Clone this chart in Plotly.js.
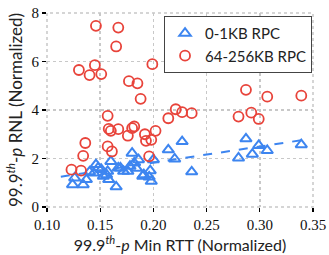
<!DOCTYPE html>
<html>
<head>
<meta charset="utf-8">
<script src="https://cdn.plot.ly/plotly-3.0.1.min.js"></script>
<style>html,body{margin:0;padding:0;background:#fff;}#chart{width:329px;height:255px;}</style>
</head>
<body>
<div id="chart"></div>
<script>
// Small RPCs (0-1KB)
const smallX = [0.124,0.126,0.134,0.137,0.140,0.144,0.146,0.148,0.151,0.153,0.156,0.157,0.158,0.160,0.165,0.167,0.169,0.172,0.176,0.178,0.180,0.182,0.184,0.186,0.190,0.191,0.196,0.197,0.198,0.200,0.214,0.220,0.227,0.236,0.280,0.287,0.293,0.299,0.307,0.339];
const smallY = [0.92,1.20,0.92,1.13,1.45,1.40,1.75,1.61,1.55,1.27,1.33,1.47,1.13,1.88,0.83,1.61,1.61,1.47,1.47,1.68,2.22,1.82,1.60,1.95,1.27,1.33,1.24,1.50,1.06,1.95,2.36,1.98,2.70,1.45,2.02,2.81,2.18,2.54,2.33,2.57];
// Large RPCs (64-256KB)
const largeX = [0.123,0.132,0.134,0.136,0.130,0.140,0.145,0.151,0.146,0.167,0.157,0.158,0.160,0.167,0.165,0.157,0.161,0.176,0.180,0.182,0.177,0.185,0.188,0.192,0.193,0.198,0.196,0.199,0.202,0.214,0.221,0.227,0.236,0.280,0.287,0.292,0.299,0.307,0.339];
const largeY = [1.54,1.50,2.11,2.64,5.65,5.44,5.85,5.48,7.47,7.40,3.76,3.22,3.14,3.21,6.62,2.50,2.29,2.94,3.25,3.32,5.19,5.10,4.46,3.00,2.73,2.77,2.09,5.89,3.14,3.66,4.03,3.91,3.87,3.73,4.83,3.89,3.63,4.55,4.59];
// Trend line for small RPCs (endpoints)
const trendX = [0.113, 0.343];
const trendY = [1.25, 2.78];

const xTicks = [0.10,0.15,0.20,0.25,0.30,0.35];
const xTickText = ["0.10","0.15","0.20","0.25","0.30","0.35"];
const yTicks = [0,2,4,6,8];

const blue = '#3d85f0';
const red = '#e8433a';

const traces = [
  {x: trendX, y: trendY, mode:'lines', line:{color:blue, width:2, dash:'dash'}, showlegend:false, hoverinfo:'skip'},
  {x: smallX, y: smallY, mode:'markers', name:'0-1KB RPC',
   marker:{symbol:'triangle-up-open', size:10, color:blue, line:{width:2, color:blue}}},
  {x: largeX, y: largeY, mode:'markers', name:'64-256KB RPC',
   marker:{symbol:'circle-open', size:10, color:red, line:{width:1.8, color:red}}}
];

const tickFont = {family:'"Liberation Serif","DejaVu Serif",serif', size:15, color:'#111'};
const sans = 'Lato,"Open Sans",sans-serif';

const layout = {
  width:329, height:255,
  margin:{l:47, r:16, t:13, b:47.5, pad:0},
  paper_bgcolor:'#fff', plot_bgcolor:'#fff',
  showlegend:true,
  legend:{x:0.44, y:0.985, xanchor:'left', yanchor:'top', bgcolor:'#fff', bordercolor:'#444', borderwidth:1,
          font:{family:sans, size:15, color:'#222'}, itemwidth:30, tracegroupgap:0},
  xaxis:{range:[0.10,0.35], tickvals:xTicks, ticktext:xTickText, ticks:'outside', ticklen:4, tickwidth:1.2, tickcolor:'#000',
         showgrid:true, gridcolor:'#c8c8c8', gridwidth:1.5, griddash:'dot', zeroline:false, showline:false,
         tickfont:tickFont, title:{text:'99.9<sup><i>th</i></sup>-<i>p</i> Min RTT (Normalized)', font:{family:sans, size:16, color:'#222'}, standoff:3}},
  yaxis:{range:[0,8], tickvals:yTicks, ticks:'outside', ticklen:4, tickwidth:1.2, tickcolor:'#000',
         showgrid:true, gridcolor:'#c8c8c8', gridwidth:1.5, griddash:'dot', zeroline:false, showline:false,
         tickfont:tickFont, title:{text:'99.9<sup><i>th</i></sup>-<i>p</i> RNL (Normalized)', font:{family:sans, size:17, color:'#222'}, standoff:4}},
  shapes:[{type:'rect', xref:'paper', yref:'paper', x0:0, x1:1, y0:0, y1:1, layer:'below',
           line:{color:'#c8c8c8', width:1.5, dash:'dot'}}]
};

Plotly.newPlot('chart', traces, layout, {displayModeBar:false, staticPlot:true});
</script>
</body>
</html>
